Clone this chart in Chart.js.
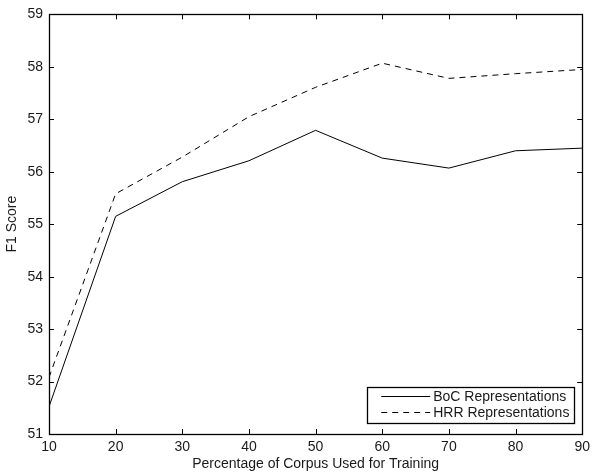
<!DOCTYPE html>
<html>
<head>
<meta charset="utf-8">
<title>F1 Score vs training corpus size</title>
<script src="https://cdn.jsdelivr.net/npm/chart.js@4.4.1/dist/chart.umd.min.js"></script>
<style>
  html, body { margin: 0; padding: 0; background: #fff; }
  #wrap { width: 595px; height: 476px; }
</style>
</head>
<body>
<div id="wrap"><canvas id="f1Chart" width="595" height="476"></canvas></div>
<script>
// data
const corpusPct = [10, 20, 30, 40, 50, 60, 70, 80, 90];
const bocScores = [51.52, 55.15, 55.81, 56.21, 56.79, 56.26, 56.07, 56.40, 56.45];
const hrrScores = [52.08, 55.58, 56.28, 57.05, 57.61, 58.07, 57.78, 57.87, 57.95];
const xTicks = [10, 20, 30, 40, 50, 60, 70, 80, 90];
const yTicks = [51, 52, 53, 54, 55, 56, 57, 58, 59];

const FONT = 'Liberation Sans, Arial, Helvetica, sans-serif';
const TEXT = '#1a1a1a';

function toPoints(xs, ys) {
    return xs.map((x, i) => ({ x: x, y: ys[i] }));
}

// box round the axes, with matlab style inward ticks on all four sides
const matlabBox = {
    id: 'matlabBox',
    afterDatasetsDraw(chart) {
        const ctx = chart.ctx;
        const a = chart.chartArea;
        const xs = chart.scales.x;
        const ys = chart.scales.y;
        const len = 5;
        ctx.save();
        ctx.strokeStyle = '#000';
        ctx.lineWidth = 1;
        ctx.beginPath();
        xTicks.forEach(v => {
            const px = Math.round(xs.getPixelForValue(v)) + 0.5;
            ctx.moveTo(px, a.bottom); ctx.lineTo(px, a.bottom - len);
            ctx.moveTo(px, a.top); ctx.lineTo(px, a.top + len);
        });
        yTicks.forEach(v => {
            const py = Math.round(ys.getPixelForValue(v)) + 0.5;
            ctx.moveTo(a.left, py); ctx.lineTo(a.left + len, py);
            ctx.moveTo(a.right, py); ctx.lineTo(a.right - len, py);
        });
        ctx.stroke();
        ctx.lineWidth = 1.3;
        ctx.strokeRect(Math.round(a.left) + 0.5, Math.round(a.top) + 0.5,
            Math.round(a.right - a.left), Math.round(a.bottom - a.top));
        ctx.restore();
    }
};

// legend box in the lower right corner
const boxLegend = {
    id: 'boxLegend',
    afterDraw(chart) {
        const ctx = chart.ctx;
        const a = chart.chartArea;
        const w = 207, h = 36;
        const x0 = a.right - 8 - w;
        const y0 = a.bottom - 11 - h;
        ctx.save();
        ctx.fillStyle = '#fff';
        ctx.fillRect(x0, y0, w, h);
        ctx.strokeStyle = '#000';
        ctx.lineWidth = 1.3;
        ctx.strokeRect(Math.round(x0) + 0.5, Math.round(y0) + 0.5, w, h);
        ctx.font = '14px ' + FONT;
        ctx.textBaseline = 'middle';
        ctx.fillStyle = TEXT;
        chart.data.datasets.forEach((ds, i) => {
            const cy = y0 + 9 + i * 16;
            ctx.beginPath();
            ctx.setLineDash(ds.borderDash || []);
            ctx.lineWidth = 1;
            ctx.moveTo(x0 + 14, cy + 0.5);
            ctx.lineTo(x0 + 63, cy + 0.5);
            ctx.stroke();
            ctx.setLineDash([]);
            ctx.fillText(ds.label, x0 + 66, cy + 1);
        });
        ctx.restore();
    }
};

document.addEventListener('DOMContentLoaded', function() {
    const ctx = document.getElementById('f1Chart').getContext('2d');
    new Chart(ctx, {
        type: 'line',
        data: {
            datasets: [{
                label: 'BoC Representations',
                data: toPoints(corpusPct, bocScores),
                borderColor: '#000',
                borderWidth: 1,
                pointRadius: 0,
                tension: 0,
                fill: false
            }, {
                label: 'HRR Representations',
                data: toPoints(corpusPct, hrrScores),
                borderColor: '#000',
                borderWidth: 1,
                borderDash: [6, 5],
                pointRadius: 0,
                tension: 0,
                fill: false
            }]
        },
        options: {
            responsive: false,
            animation: false,
            layout: {
                autoPadding: false,
                padding: { top: 9, right: 7, left: 0, bottom: 0 }
            },
            plugins: {
                legend: { display: false },
                tooltip: { enabled: false }
            },
            scales: {
                x: {
                    type: 'linear',
                    min: 10,
                    max: 90,
                    afterBuildTicks: s => { s.ticks = xTicks.map(v => ({ value: v })); },
                    afterFit: s => { s.height = 42; },
                    grid: { display: false, drawTicks: false },
                    border: { display: false },
                    ticks: {
                        padding: 5,
                        color: TEXT,
                        maxRotation: 0,
                        autoSkip: false,
                        font: { family: FONT, size: 14 }
                    },
                    title: {
                        display: true,
                        text: 'Percentage of Corpus Used for Training',
                        color: TEXT,
                        padding: { top: 0, bottom: 3 },
                        font: { family: FONT, size: 14 }
                    }
                },
                y: {
                    type: 'linear',
                    min: 51,
                    max: 59,
                    afterBuildTicks: s => { s.ticks = yTicks.map(v => ({ value: v })); },
                    afterFit: s => { s.width = 49; },
                    grid: { display: false, drawTicks: false },
                    border: { display: false },
                    ticks: {
                        padding: 6,
                        color: TEXT,
                        autoSkip: false,
                        font: { family: FONT, size: 14 }
                    },
                    title: {
                        display: true,
                        text: 'F1 Score',
                        color: TEXT,
                        padding: { top: 4, bottom: 0 },
                        font: { family: FONT, size: 14 }
                    }
                }
            }
        },
        plugins: [matlabBox, boxLegend]
    });
});
</script>
</body>
</html>
